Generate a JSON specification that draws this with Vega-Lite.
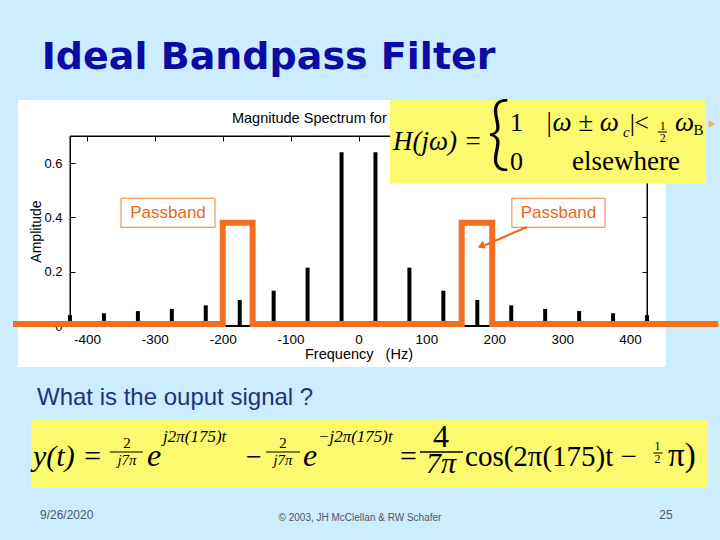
{
  "$schema": "https://vega.github.io/schema/vega-lite/v6.json",
  "width": 648,
  "height": 267,
  "autosize": {"type": "none"},
  "padding": {"left": 18, "top": 100, "right": 54, "bottom": 173},
  "background": "#CCECFF",
  "view": {"fill": "white", "stroke": null},
  "datasets": {
    "one": [{}],
    "stems": [
      {"freq": -425, "amp": 0.04}, {"freq": -375, "amp": 0.047}, {"freq": -325, "amp": 0.055},
      {"freq": -275, "amp": 0.063}, {"freq": -225, "amp": 0.076}, {"freq": -175, "amp": 0.096},
      {"freq": -125, "amp": 0.13}, {"freq": -75, "amp": 0.215}, {"freq": -25, "amp": 0.64},
      {"freq": 25, "amp": 0.64}, {"freq": 75, "amp": 0.215}, {"freq": 125, "amp": 0.13},
      {"freq": 175, "amp": 0.096}, {"freq": 225, "amp": 0.076}, {"freq": 275, "amp": 0.063},
      {"freq": 325, "amp": 0.055}, {"freq": 375, "amp": 0.047}, {"freq": 425, "amp": 0.04}
    ],
    "band": [
      {"i": 0, "freq": -509, "amp": 0.007}, {"i": 1, "freq": -200, "amp": 0.007},
      {"i": 2, "freq": -200, "amp": 0.38}, {"i": 3, "freq": -156, "amp": 0.38},
      {"i": 4, "freq": -156, "amp": 0.007}, {"i": 5, "freq": 152, "amp": 0.007},
      {"i": 6, "freq": 152, "amp": 0.38}, {"i": 7, "freq": 197, "amp": 0.38},
      {"i": 8, "freq": 197, "amp": 0.007}, {"i": 9, "freq": 530, "amp": 0.007}
    ]
  },
  "layer": [
    {
      "data": {"name": "one"},
      "mark": {"type": "rule", "color": "black", "strokeWidth": 2},
      "encoding": {
        "x": {"datum": -425, "type": "quantitative",
          "scale": {"domain": [-425, 425], "range": [52, 629], "nice": false, "zero": false},
          "axis": {"orient": "top", "offset": -36, "values": [-400, -300, -200, -100, 0, 100, 200, 300, 400],
            "labels": false, "tickSize": -5, "tickColor": "black", "domain": true, "domainColor": "black", "domainWidth": 1, "title": null, "grid": false}},
        "x2": {"datum": 425},
        "y": {"datum": 0, "type": "quantitative",
          "scale": {"domain": [0, 0.7], "range": [226, 36], "nice": false},
          "axis": {"orient": "right", "offset": -19, "values": [0, 0.2, 0.4, 0.6],
            "labels": false, "tickSize": -5, "tickColor": "black", "domain": true, "domainColor": "black", "domainWidth": 1, "title": null, "grid": false}}
      }
    },
    {
      "layer": [
        {
          "data": {"name": "stems"},
          "mark": {"type": "rule", "color": "black", "strokeWidth": 4, "strokeCap": "butt"},
          "encoding": {
            "x": {"field": "freq", "type": "quantitative",
              "scale": {"domain": [-425, 425], "range": [52, 629], "nice": false, "zero": false},
              "axis": {"orient": "bottom", "offset": -41, "values": [-400, -300, -200, -100, 0, 100, 200, 300, 400],
                "labelExpr": "'' + datum.value", "tickSize": -5, "tickColor": "black", "domain": true, "domainColor": "black", "domainWidth": 1,
                "labelFont": "Liberation Sans", "labelFontSize": 13.5, "labelColor": "black", "labelPadding": 11,
                "title": "Frequency\u00a0\u00a0\u00a0(Hz)", "titleFont": "Liberation Sans", "titleFontSize": 14.5,
                "titleFontWeight": "normal", "titleColor": "black", "titlePadding": 2, "grid": false}},
            "y": {"field": "amp", "type": "quantitative",
              "scale": {"domain": [0, 0.7], "range": [226, 36], "nice": false},
              "axis": {"orient": "left", "offset": -52, "values": [0, 0.2, 0.4, 0.6],
                "labelExpr": "'' + datum.value", "tickSize": -5, "tickColor": "black", "domain": true, "domainColor": "black", "domainWidth": 1,
                "labelFont": "Liberation Sans", "labelFontSize": 13, "labelColor": "black", "labelPadding": 13,
                "title": "Amplitude", "titleFont": "Liberation Sans", "titleFontSize": 14,
                "titleFontWeight": "normal", "titleColor": "black", "titlePadding": 0, "grid": false}},
            "y2": {"datum": 0}
          }
        },
        {
          "data": {"name": "one"},
          "mark": {"type": "rect", "fillOpacity": 0, "stroke": "black", "strokeWidth": 1},
          "encoding": {"x": {"datum": -425}, "x2": {"datum": 425}, "y": {"datum": 0}, "y2": {"datum": 0.7}}
        },
        {
          "data": {"name": "one"},
          "mark": {"type": "text", "text": "Magnitude Spectrum for Square Wave", "font": "Liberation Sans", "fontSize": 14.5, "align": "left", "baseline": "alphabetic", "color": "black"},
          "encoding": {"x": {"datum": -186.4}, "y": {"datum": 0.7468}}
        },
        {
          "data": {"name": "band"},
          "mark": {"type": "line", "color": "#F0701E", "strokeWidth": 6, "strokeJoin": "miter"},
          "encoding": {
            "x": {"field": "freq", "type": "quantitative"},
            "y": {"field": "amp", "type": "quantitative"},
            "order": {"field": "i"}
          }
        },
        {
          "data": {"name": "one"},
          "mark": {"type": "rect", "fill": "white", "stroke": "#E4803F", "strokeWidth": 1},
          "encoding": {"x": {"datum": -349.9}, "x2": {"datum": -211.4}, "y": {"datum": 0.4705}, "y2": {"datum": 0.3636}}
        },
        {
          "data": {"name": "one"},
          "mark": {"type": "rect", "fill": "white", "stroke": "#E4803F", "strokeWidth": 1},
          "encoding": {"x": {"datum": 225.9}, "x2": {"datum": 363.1}, "y": {"datum": 0.4705}, "y2": {"datum": 0.3636}}
        },
        {
          "data": {"name": "one"},
          "mark": {"type": "text", "text": "Passband", "font": "Liberation Sans", "fontSize": 17, "align": "center", "baseline": "middle", "color": "#E8691C"},
          "encoding": {"x": {"datum": -280.6}, "y": {"datum": 0.4163}}
        },
        {
          "data": {"name": "one"},
          "mark": {"type": "text", "text": "Passband", "font": "Liberation Sans", "fontSize": 17, "align": "center", "baseline": "middle", "color": "#E8691C"},
          "encoding": {"x": {"datum": 294.6}, "y": {"datum": 0.4163}}
        },
        {
          "data": {"name": "one"},
          "mark": {"type": "rule", "color": "#E8691C", "strokeWidth": 2},
          "encoding": {"x": {"datum": 248.2}, "x2": {"datum": 186}, "y": {"datum": 0.3647}, "y2": {"datum": 0.2975}}
        },
        {
          "data": {"name": "one"},
          "mark": {"type": "point", "shape": "triangle-right", "filled": true, "color": "#E8691C", "size": 70, "angle": 157.6, "opacity": 1},
          "encoding": {"x": {"datum": 180.5}, "y": {"datum": 0.2947}}
        },
        {
          "data": {"name": "one"},
          "mark": {"type": "rect", "fill": "#FBFA6E"},
          "encoding": {"x": {"datum": 46.4}, "x2": {"datum": 511.9}, "y": {"datum": 0.8326}, "y2": {"datum": 0.525}}
        },
        {
          "data": {"name": "one"},
          "mark": {"type": "point", "shape": "triangle-right", "filled": true, "color": "#F5B24A", "size": 60, "opacity": 1},
          "encoding": {"x": {"datum": 520.8}, "y": {"datum": 0.7442}}
        },
        {
          "data": {"name": "one"},
          "mark": {"type": "text", "text": "H(jω) =", "font": "Liberation Serif", "fontStyle": "italic", "fontSize": 27, "align": "left", "baseline": "alphabetic", "color": "black"},
          "encoding": {"x": {"datum": 50.8}, "y": {"datum": 0.6484}}
        },
        {
          "data": {"name": "one"},
          "mark": {"type": "text", "text": "{", "font": "Lato", "fontWeight": 300, "fontSize": 80, "align": "center", "baseline": "alphabetic", "color": "black"},
          "encoding": {"x": {"datum": 206.2}, "y": {"datum": 0.6116}}
        },
        {
          "data": {"name": "one"},
          "mark": {"type": "text", "text": "1", "font": "Liberation Serif", "fontSize": 26, "align": "left", "baseline": "alphabetic", "color": "black"},
          "encoding": {"x": {"datum": 223.2}, "y": {"datum": 0.7184}}
        },
        {
          "data": {"name": "one"},
          "mark": {"type": "text", "text": "|ω ± ω", "font": "Liberation Serif", "fontStyle": "italic", "fontSize": 27, "align": "left", "baseline": "alphabetic", "color": "black"},
          "encoding": {"x": {"datum": 274.7}, "y": {"datum": 0.7184}}
        },
        {
          "data": {"name": "one"},
          "mark": {"type": "text", "text": "c", "font": "Liberation Serif", "fontStyle": "italic", "fontSize": 15, "align": "left", "baseline": "alphabetic", "color": "black"},
          "encoding": {"x": {"datum": 389.5}, "y": {"datum": 0.6963}}
        },
        {
          "data": {"name": "one"},
          "mark": {"type": "text", "text": "|", "font": "Liberation Serif", "fontSize": 26, "align": "left", "baseline": "alphabetic", "color": "black"},
          "encoding": {"x": {"datum": 399.5}, "y": {"datum": 0.7184}}
        },
        {
          "data": {"name": "one"},
          "mark": {"type": "text", "text": "<", "font": "Liberation Serif", "fontSize": 26, "align": "left", "baseline": "alphabetic", "color": "black"},
          "encoding": {"x": {"datum": 406.4}, "y": {"datum": 0.7184}}
        },
        {
          "data": {"name": "one"},
          "mark": {"type": "text", "text": "1", "font": "Liberation Serif", "fontSize": 12, "align": "center", "baseline": "alphabetic", "color": "black"},
          "encoding": {"x": {"datum": 448.1}, "y": {"datum": 0.7221}}
        },
        {
          "data": {"name": "one"},
          "mark": {"type": "rule", "color": "black", "strokeWidth": 1},
          "encoding": {"x": {"datum": 441.2}, "x2": {"datum": 454.5}, "y": {"datum": 0.7147}}
        },
        {
          "data": {"name": "one"},
          "mark": {"type": "text", "text": "2", "font": "Liberation Serif", "fontSize": 12, "align": "center", "baseline": "alphabetic", "color": "black"},
          "encoding": {"x": {"datum": 448.1}, "y": {"datum": 0.6761}}
        },
        {
          "data": {"name": "one"},
          "mark": {"type": "text", "text": "ω", "font": "Liberation Serif", "fontStyle": "italic", "fontSize": 27, "align": "left", "baseline": "alphabetic", "color": "black"},
          "encoding": {"x": {"datum": 466.2}, "y": {"datum": 0.7184}}
        },
        {
          "data": {"name": "one"},
          "mark": {"type": "text", "text": "B", "font": "Liberation Serif", "fontSize": 15, "align": "left", "baseline": "alphabetic", "color": "black"},
          "encoding": {"x": {"datum": 493.5}, "y": {"datum": 0.7037}}
        },
        {
          "data": {"name": "one"},
          "mark": {"type": "text", "text": "0", "font": "Liberation Serif", "fontSize": 26, "align": "left", "baseline": "alphabetic", "color": "black"},
          "encoding": {"x": {"datum": 223.2}, "y": {"datum": 0.5747}}
        },
        {
          "data": {"name": "one"},
          "mark": {"type": "text", "text": "elsewhere", "font": "Liberation Serif", "fontSize": 27, "align": "left", "baseline": "alphabetic", "color": "black"},
          "encoding": {"x": {"datum": 314.5}, "y": {"datum": 0.5747}}
        },
        {
          "data": {"name": "one"},
          "mark": {"type": "text", "text": "What is the ouput signal ?", "font": "Liberation Sans", "fontSize": 24, "align": "left", "baseline": "alphabetic", "color": "#223377"},
          "encoding": {"x": {"datum": -473.6}, "y": {"datum": -0.2911}}
        },
        {
          "data": {"name": "one"},
          "mark": {"type": "rect", "fill": "#FBFA6E"},
          "encoding": {"x": {"datum": -482.5}, "x2": {"datum": 514.9}, "y": {"datum": -0.3463}, "y2": {"datum": -0.5968}}
        },
        {
          "data": {"name": "one"},
          "mark": {"type": "text", "text": "y(t) =", "font": "Liberation Serif", "fontStyle": "italic", "fontSize": 30, "align": "left", "baseline": "alphabetic", "color": "black"},
          "encoding": {"x": {"datum": -479.5}, "y": {"datum": -0.5158}}
        },
        {
          "data": {"name": "one"},
          "mark": {"type": "text", "text": "2", "font": "Liberation Serif", "fontSize": 15, "align": "center", "baseline": "alphabetic", "color": "black"},
          "encoding": {"x": {"datum": -341.0}, "y": {"datum": -0.4495}}
        },
        {
          "data": {"name": "one"},
          "mark": {"type": "rule", "color": "black", "strokeWidth": 1.2},
          "encoding": {"x": {"datum": -366.1}, "x2": {"datum": -317.5}, "y": {"datum": -0.4642}}
        },
        {
          "data": {"name": "one"},
          "mark": {"type": "text", "text": "j7π", "font": "Liberation Serif", "fontStyle": "italic", "fontSize": 15, "align": "center", "baseline": "alphabetic", "color": "black"},
          "encoding": {"x": {"datum": -341.0}, "y": {"datum": -0.5121}}
        },
        {
          "data": {"name": "one"},
          "mark": {"type": "text", "text": "e", "font": "Liberation Serif", "fontStyle": "italic", "fontSize": 32, "align": "left", "baseline": "alphabetic", "color": "black"},
          "encoding": {"x": {"datum": -311.6}, "y": {"datum": -0.5158}}
        },
        {
          "data": {"name": "one"},
          "mark": {"type": "text", "text": "j2π(175)t", "font": "Liberation Serif", "fontStyle": "italic", "fontSize": 17, "align": "left", "baseline": "alphabetic", "color": "black"},
          "encoding": {"x": {"datum": -288.0}, "y": {"datum": -0.4274}}
        },
        {
          "data": {"name": "one"},
          "mark": {"type": "text", "text": "−", "font": "Liberation Serif", "fontSize": 28, "align": "left", "baseline": "alphabetic", "color": "black"},
          "encoding": {"x": {"datum": -165.7}, "y": {"datum": -0.5158}}
        },
        {
          "data": {"name": "one"},
          "mark": {"type": "text", "text": "2", "font": "Liberation Serif", "fontSize": 15, "align": "center", "baseline": "alphabetic", "color": "black"},
          "encoding": {"x": {"datum": -111.2}, "y": {"datum": -0.4495}}
        },
        {
          "data": {"name": "one"},
          "mark": {"type": "rule", "color": "black", "strokeWidth": 1.2},
          "encoding": {"x": {"datum": -136.3}, "x2": {"datum": -86.2}, "y": {"datum": -0.4642}}
        },
        {
          "data": {"name": "one"},
          "mark": {"type": "text", "text": "j7π", "font": "Liberation Serif", "fontStyle": "italic", "fontSize": 15, "align": "center", "baseline": "alphabetic", "color": "black"},
          "encoding": {"x": {"datum": -111.2}, "y": {"datum": -0.5121}}
        },
        {
          "data": {"name": "one"},
          "mark": {"type": "text", "text": "e", "font": "Liberation Serif", "fontStyle": "italic", "fontSize": 32, "align": "left", "baseline": "alphabetic", "color": "black"},
          "encoding": {"x": {"datum": -81.8}, "y": {"datum": -0.5158}}
        },
        {
          "data": {"name": "one"},
          "mark": {"type": "text", "text": "−j2π(175)t", "font": "Liberation Serif", "fontStyle": "italic", "fontSize": 17, "align": "left", "baseline": "alphabetic", "color": "black"},
          "encoding": {"x": {"datum": -59.7}, "y": {"datum": -0.4274}}
        },
        {
          "data": {"name": "one"},
          "mark": {"type": "text", "text": "=", "font": "Liberation Serif", "fontSize": 30, "align": "left", "baseline": "alphabetic", "color": "black"},
          "encoding": {"x": {"datum": 61.1}, "y": {"datum": -0.5158}}
        },
        {
          "data": {"name": "one"},
          "mark": {"type": "text", "text": "4", "font": "Liberation Serif", "fontSize": 32, "align": "center", "baseline": "alphabetic", "color": "black"},
          "encoding": {"x": {"datum": 121.5}, "y": {"datum": -0.4458}}
        },
        {
          "data": {"name": "one"},
          "mark": {"type": "rule", "color": "black", "strokeWidth": 1.5},
          "encoding": {"x": {"datum": 90.6}, "x2": {"datum": 153.9}, "y": {"datum": -0.4642}}
        },
        {
          "data": {"name": "one"},
          "mark": {"type": "text", "text": "7π", "font": "Liberation Serif", "fontStyle": "italic", "fontSize": 30, "align": "center", "baseline": "alphabetic", "color": "black"},
          "encoding": {"x": {"datum": 121.5}, "y": {"datum": -0.5416}}
        },
        {
          "data": {"name": "one"},
          "mark": {"type": "text", "text": "cos(2π(175)t −", "font": "Liberation Serif", "fontSize": 29, "align": "left", "baseline": "alphabetic", "color": "black"},
          "encoding": {"x": {"datum": 156.9}, "y": {"datum": -0.5158}}
        },
        {
          "data": {"name": "one"},
          "mark": {"type": "text", "text": "1", "font": "Liberation Serif", "fontSize": 12, "align": "center", "baseline": "alphabetic", "color": "black"},
          "encoding": {"x": {"datum": 440.5}, "y": {"datum": -0.4568}}
        },
        {
          "data": {"name": "one"},
          "mark": {"type": "rule", "color": "black", "strokeWidth": 1},
          "encoding": {"x": {"datum": 434.6}, "x2": {"datum": 447.8}, "y": {"datum": -0.4679}}
        },
        {
          "data": {"name": "one"},
          "mark": {"type": "text", "text": "2", "font": "Liberation Serif", "fontSize": 12, "align": "center", "baseline": "alphabetic", "color": "black"},
          "encoding": {"x": {"datum": 440.5}, "y": {"datum": -0.5047}}
        },
        {
          "data": {"name": "one"},
          "mark": {"type": "text", "text": "π)", "font": "Liberation Serif", "fontSize": 33, "align": "left", "baseline": "alphabetic", "color": "black"},
          "encoding": {"x": {"datum": 455.9}, "y": {"datum": -0.5158}}
        },
        {
          "data": {"name": "one"},
          "mark": {"type": "text", "text": "9/26/2020", "font": "Liberation Sans", "fontSize": 12, "align": "left", "baseline": "alphabetic", "color": "#555566"},
          "encoding": {"x": {"datum": -469.2}, "y": {"datum": -0.7111}}
        },
        {
          "data": {"name": "one"},
          "mark": {"type": "text", "text": "© 2003, JH McClellan & RW Schafer", "font": "Liberation Sans", "fontSize": 10, "align": "center", "baseline": "alphabetic", "color": "#555566"},
          "encoding": {"x": {"datum": 2.2}, "y": {"datum": -0.7184}}
        },
        {
          "data": {"name": "one"},
          "mark": {"type": "text", "text": "25", "font": "Liberation Sans", "fontSize": 12, "align": "center", "baseline": "alphabetic", "color": "#555566"},
          "encoding": {"x": {"datum": 453.0}, "y": {"datum": -0.7111}}
        },
        {
          "data": {"name": "one"},
          "mark": {"type": "text", "text": "Ideal Bandpass Filter", "font": "DejaVu Sans", "fontWeight": "bold", "fontSize": 38, "align": "left", "baseline": "alphabetic", "color": "#0B0BA6"},
          "encoding": {"x": {"datum": -466.7}, "y": {"datum": 0.9457}}
        }
      ]
    }
  ],
  "resolve": {"axis": {"x": "independent", "y": "independent"}}
}
